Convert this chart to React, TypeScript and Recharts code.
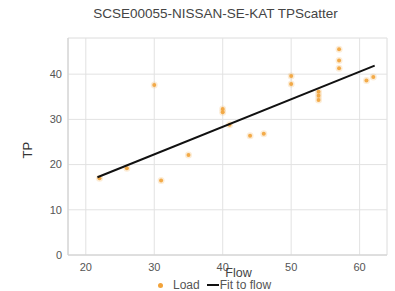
import React from "react";
import { ScatterChart, Scatter, XAxis, YAxis, CartesianGrid } from "recharts";

const LOAD_FLOW = [22, 26, 30, 31, 35, 40, 40, 41, 44, 46, 50, 50, 54, 54, 54, 57, 57, 57, 61, 62];
const LOAD_TP = [17, 19.2, 37.6, 16.5, 22.1, 32.3, 31.6, 28.8, 26.4, 26.8, 39.6, 37.8, 36.1, 35.2, 34.3, 45.5, 43, 41.3, 38.6, 39.4];

const FIT_FLOW = [21.7, 62.2];
const FIT_TP = [17.2, 41.9];

const X_TICKS = [20, 30, 40, 50, 60];
const Y_TICKS = [0, 10, 20, 30, 40];
const X_MINOR = [18, 20, 22, 24, 26, 28, 30, 32, 34, 36, 38, 40, 42, 44, 46, 48, 50, 52, 54, 56, 58, 60, 62, 64];
const Y_MINOR = [0, 2, 4, 6, 8, 10, 12, 14, 16, 18, 20, 22, 24, 26, 28, 30, 32, 34, 36, 38, 40, 42, 44, 46, 48];

const X_DOMAIN: [number, number] = [17.4, 64];
const Y_DOMAIN: [number, number] = [0, 48];

const TITLE = "SCSE00055-NISSAN-SE-KAT TPScatter";
const FONT = "'Liberation Sans', Arial, sans-serif";
const ORANGE = "#f2a33a";

const loadData = LOAD_FLOW.map((x, i) => ({ x, y: LOAD_TP[i] }));
const fitData = FIT_FLOW.map((x, i) => ({ x, y: FIT_TP[i] }));

const Dot = (props: any) => {
  const { cx, cy } = props;
  return (
    <g>
      <circle cx={cx} cy={cy} r={3.5} fill={ORANGE} opacity={0.2} />
      <circle cx={cx} cy={cy} r={2} fill={ORANGE} opacity={0.9} />
    </g>
  );
};

export default function App() {
  return (
    <div style={{ position: "absolute", left: 0, top: 0, width: 395, height: 291, background: "#fff", fontFamily: FONT }}>
      <div style={{ position: "absolute", top: 6, left: 0, width: 431, textAlign: "center", fontSize: 13.5, color: "#444", whiteSpace: "nowrap" }}>
        {TITLE}
      </div>
      <ScatterChart width={395} height={291} margin={{ top: 38, right: 8, bottom: 0, left: 0 }}>
        <XAxis xAxisId="minor" orientation="top" type="number" dataKey="x" domain={X_DOMAIN} ticks={X_MINOR} height={0} tick={false} tickLine={false} axisLine={false} allowDataOverflow />
        <YAxis yAxisId="minor" orientation="right" type="number" dataKey="y" domain={Y_DOMAIN} ticks={Y_MINOR} width={0} tick={false} tickLine={false} axisLine={false} allowDataOverflow />
        <CartesianGrid xAxisId="minor" yAxisId="minor" stroke="#f3f3f3" />
        <CartesianGrid stroke="#e2e2e2" />
        <XAxis
          type="number"
          dataKey="x"
          domain={X_DOMAIN}
          ticks={X_TICKS}
          height={36}
          allowDataOverflow
          axisLine={{ stroke: "#d0d0d0" }}
          tickLine={false}
          tickSize={4}
          tickMargin={4}
          tick={{ fill: "#555", fontSize: 11, fontFamily: FONT }}
          label={{ value: "Flow", position: "insideTop", dx: 11, dy: 8, fill: "#444", fontSize: 12.5, fontFamily: FONT }}
        />
        <YAxis
          type="number"
          dataKey="y"
          domain={Y_DOMAIN}
          ticks={Y_TICKS}
          width={68}
          allowDataOverflow
          axisLine={{ stroke: "#d0d0d0" }}
          tickLine={false}
          tickSize={4}
          tickMargin={2}
          tick={{ fill: "#555", fontSize: 11, fontFamily: FONT }}
          label={{ value: "TP", angle: -90, position: "insideLeft", dx: 22, dy: 12, fill: "#333", fontSize: 13, fontFamily: FONT }}
        />
        <Scatter name="Load" data={loadData} fill={ORANGE} shape={Dot} isAnimationActive={false} />
        <Scatter
          name="Fit to flow"
          data={fitData}
          line={{ stroke: "#111", strokeWidth: 2 }}
          shape={() => <g />}
          isAnimationActive={false}
        />
      </ScatterChart>
      <div style={{ position: "absolute", top: 278, left: 158, display: "flex", alignItems: "center", fontSize: 12, color: "#555", whiteSpace: "nowrap" }}>
        <span style={{ display: "inline-block", width: 5, height: 5, borderRadius: 3, background: ORANGE, marginRight: 10 }} />
        <span>Load</span>
        <span style={{ display: "inline-block", width: 12, height: 2, background: "#111", marginLeft: 7, marginRight: 1 }} />
        <span>Fit to flow</span>
      </div>
    </div>
  );
}
